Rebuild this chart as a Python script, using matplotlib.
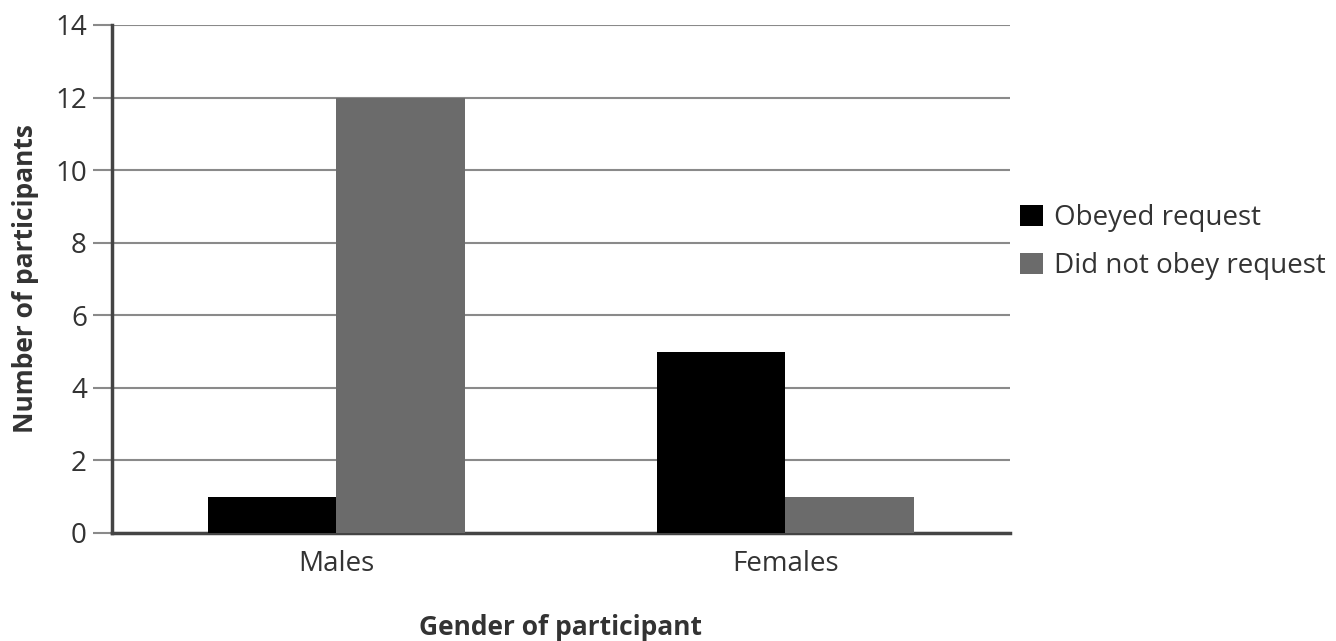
import matplotlib.pyplot as plt
import numpy as np

plt.rcParams['font.family'] = ['Open Sans', 'DejaVu Sans']

genders = ['Males', 'Females']
obeyed = [1, 5]
not_obeyed = [12, 1]
series_names = ['Obeyed request', 'Did not obey request']
yticks = [0, 2, 4, 6, 8, 10, 12, 14]

fig = plt.figure(figsize=(13.36, 6.41), dpi=100)
ax = fig.add_axes([0.0838, 0.1685, 0.672, 0.7925])

x = np.arange(len(genders))
w = 0.286
ax.bar(x - w / 2, obeyed, w, color='#000000', label=series_names[0], zorder=3)
ax.bar(x + w / 2, not_obeyed, w, color='#6b6b6b', label=series_names[1], zorder=3)

ax.set_xlim(-0.5, 1.5)
ax.set_ylim(0, 14)
ax.set_yticks(yticks)
ax.set_xticks(x)
ax.set_xticklabels(genders)

# grid lines that also run through the tick marks
ax.yaxis.grid(True, color='#8a8a8a', lw=1.5, zorder=0)
ax.tick_params(axis='y', length=14, width=1.5, color='#8a8a8a', labelsize=20,
               labelcolor='#333333', pad=4)
ax.tick_params(axis='x', length=0, labelsize=20, labelcolor='#333333', pad=12)

for s in ['top', 'right']:
    ax.spines[s].set_visible(False)
ax.spines['left'].set_color('#444444')
ax.spines['left'].set_linewidth(2.5)
ax.spines['bottom'].set_color('#444444')
ax.spines['bottom'].set_linewidth(2.5)

ax.set_ylabel('Number of participants', fontsize=19, fontweight='bold',
              color='#333333', labelpad=12)
ax.set_xlabel('Gender of participant', fontsize=19, fontweight='bold',
              color='#333333', labelpad=26)

fig.legend(loc='upper left', bbox_to_anchor=(0.745, 0.72), frameon=False,
           fontsize=20, handlelength=0.8, handleheight=0.8, handletextpad=0.4,
           labelspacing=0.7, labelcolor='#333333')

fig.savefig('out.png', dpi=100)
